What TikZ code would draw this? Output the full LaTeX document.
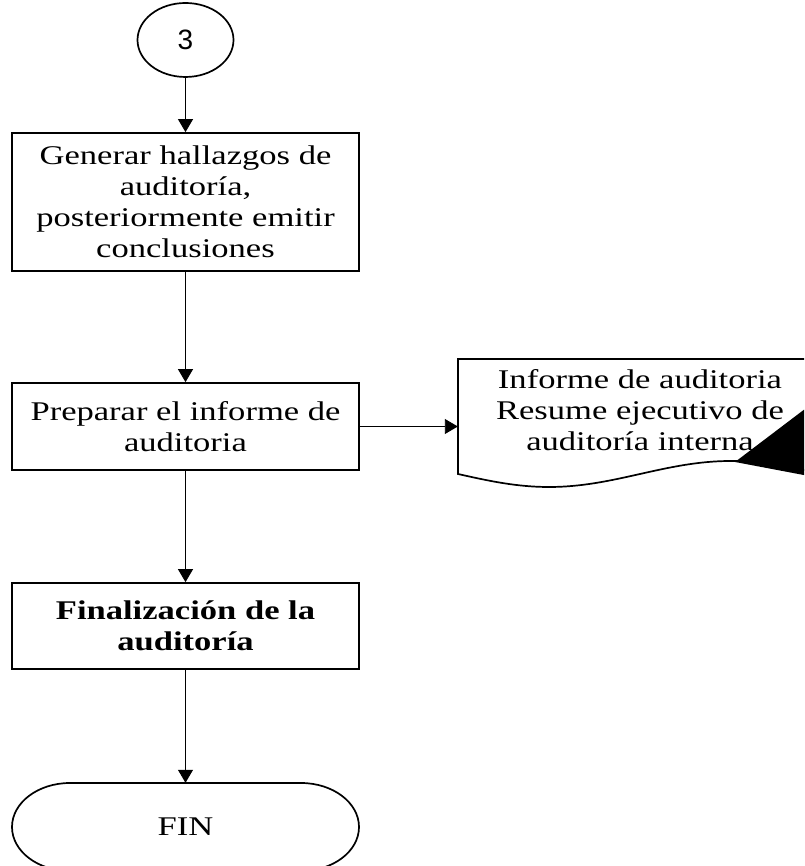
\documentclass[tikz,border=0pt]{standalone}
\usepackage{fontspec}
\setmainfont{Liberation Serif}[FakeStretch=1.28]
\newfontfamily\connfont{Liberation Sans}
\usetikzlibrary{arrows.meta,shapes.geometric}

\begin{document}
\begin{tikzpicture}[x=1pt,y=1pt,
  every node/.style={font=\fontsize{27}{31}\selectfont},
  outline/.style={line width=1.7pt},
  procbox/.style={draw, outline, minimum width=347pt, align=center, inner sep=0pt},
  flow/.style={line width=0.9pt, -{Triangle[width=15pt,length=13pt]}},
]
\useasboundingbox (0,0) rectangle (804,866);

% connector circle
\node[draw, outline, ellipse, minimum width=96pt, minimum height=74pt, inner sep=0pt,
      font=\fontsize{28}{30}\connfont] (c3) at (185.5,826) {3};

% process boxes
\node[procbox, minimum height=138pt] (gen) at (185.5,664)
  {Generar hallazgos de\\auditoría,\\posteriormente emitir\\conclusiones};
\node[procbox, minimum height=87pt] (prep) at (185.5,439.5)
  {Preparar el informe de\\auditoria};
\node[procbox, minimum height=86pt, font=\fontsize{27}{31}\selectfont\bfseries] (close) at (185.5,240)
  {Finalización de la\\auditoría};

% terminator
\node[minimum width=347pt, minimum height=88pt, inner sep=0pt] (fin) at (185.5,39) {FIN};

% document output
\node[minimum width=364pt, minimum height=115pt, inner sep=0pt] (doc) at (640,449.5) {};
\node[align=center, inner sep=0pt] (doctext) at (640,456)
  {Informe de auditoria\\Resume ejecutivo de\\auditoría interna};
\coordinate (docin) at (doc.west |- prep.east);

\begin{scope}
  \clip (0,0) rectangle (804,866);
  % rounded terminator outline
  \draw[outline] (70,83) -- (301,83)
    arc[start angle=90, end angle=-90, x radius=58, y radius=44]
    -- (70,-5)
    arc[start angle=270, end angle=90, x radius=58, y radius=44] -- cycle;
  % document outline with wavy bottom
  \draw[outline] (458,392) -- (458,507) -- (822,507) -- (822,392)
    sin (731,405) cos (640,392) sin (549,379) cos (458,392) -- cycle;
  \fill (735,404) -- (830,476) -- (830,386) -- cycle;
\end{scope}

% connectors
\draw[flow] (c3) -- (gen);
\draw[flow] (gen) -- (prep);
\draw[flow] (prep) -- (close);
\draw[flow] (close) -- (fin.north);
\draw[flow] (prep.east) -- (docin);
\end{tikzpicture}
\end{document}
